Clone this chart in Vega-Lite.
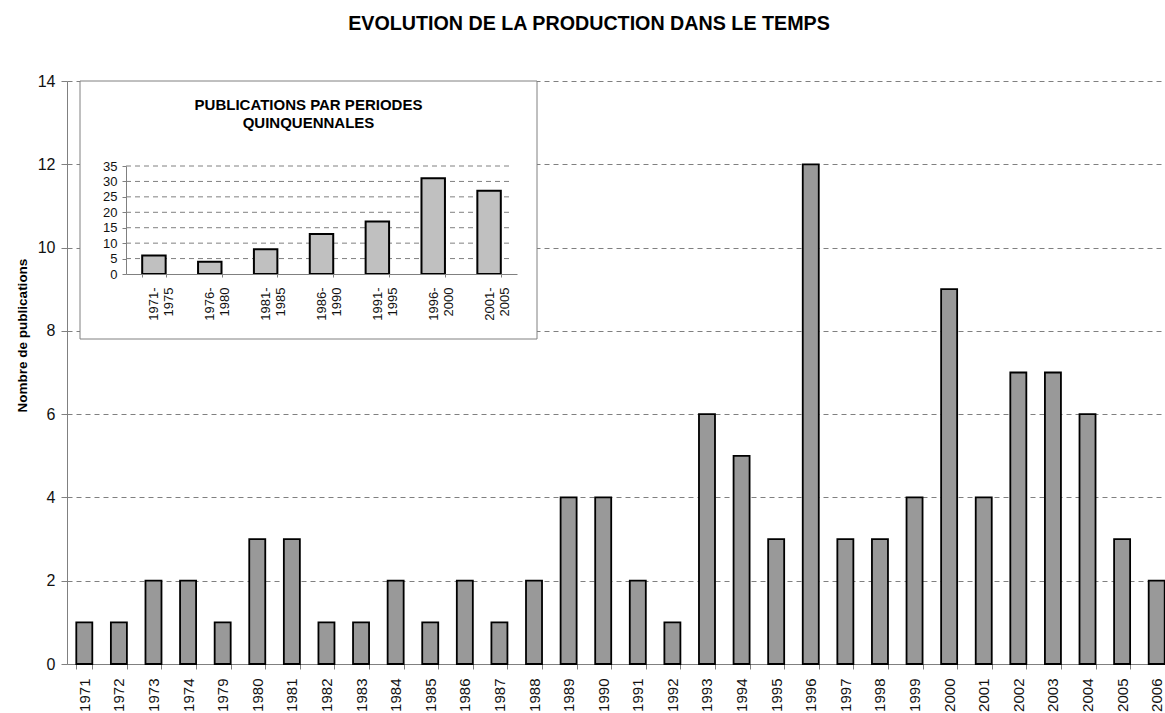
{
  "$schema": "https://vega.github.io/schema/vega-lite/v6.json",
  "width": 1098,
  "height": 583,
  "autosize": {"type": "none"},
  "padding": {"left": 67, "top": 81, "right": 0, "bottom": 49},
  "background": "white",
  "title": {
    "text": "EVOLUTION DE LA PRODUCTION DANS LE TEMPS",
    "font": "Liberation Sans",
    "fontSize": 19.7,
    "fontWeight": "bold",
    "color": "black",
    "anchor": "middle",
    "frame": "group",
    "baseline": "alphabetic",
    "dx": -27,
    "offset": 23
  },
  "config": {
    "view": {"stroke": null},
    "font": "Liberation Sans",
    "axis": {"labelFont": "Liberation Sans", "titleFont": "Liberation Sans", "labelColor": "#111111", "titleColor": "#000000"}
  },
  "datasets": {
    "years": [
      {"year": "1971", "count": 1}, {"year": "1972", "count": 1}, {"year": "1973", "count": 2},
      {"year": "1974", "count": 2}, {"year": "1979", "count": 1}, {"year": "1980", "count": 3},
      {"year": "1981", "count": 3}, {"year": "1982", "count": 1}, {"year": "1983", "count": 1},
      {"year": "1984", "count": 2}, {"year": "1985", "count": 1}, {"year": "1986", "count": 2},
      {"year": "1987", "count": 1}, {"year": "1988", "count": 2}, {"year": "1989", "count": 4},
      {"year": "1990", "count": 4}, {"year": "1991", "count": 2}, {"year": "1992", "count": 1},
      {"year": "1993", "count": 6}, {"year": "1994", "count": 5}, {"year": "1995", "count": 3},
      {"year": "1996", "count": 12}, {"year": "1997", "count": 3}, {"year": "1998", "count": 3},
      {"year": "1999", "count": 4}, {"year": "2000", "count": 9}, {"year": "2001", "count": 4},
      {"year": "2002", "count": 7}, {"year": "2003", "count": 7}, {"year": "2004", "count": 6},
      {"year": "2005", "count": 3}, {"year": "2006", "count": 2}
    ],
    "periods": [
      {"period": "1971-1975", "count": 6},
      {"period": "1976-1980", "count": 4},
      {"period": "1981-1985", "count": 8},
      {"period": "1986-1990", "count": 13},
      {"period": "1991-1995", "count": 17},
      {"period": "1996-2000", "count": 31},
      {"period": "2001-2005", "count": 27}
    ],
    "insetGrid": [{"v": 5}, {"v": 10}, {"v": 15}, {"v": 20}, {"v": 25}, {"v": 30}, {"v": 35}]
  },
  "layer": [
    {
      "data": {"name": "years"},
      "mark": {"type": "bar", "fill": "#999999", "stroke": "#000000", "strokeWidth": 1.8},
      "encoding": {
        "x": {
          "field": "year", "type": "ordinal", "sort": null,
          "scale": {"range": [0, 1107], "paddingInner": 0.537, "paddingOuter": 0.2685},
          "axis": {
            "orient": "bottom", "title": null, "labelAngle": 270, "labelFontSize": 15,
            "tickBand": "extent", "tickSize": 5, "labelPadding": 9,
            "domainColor": "#808080", "tickColor": "#808080", "grid": false
          }
        },
        "y": {
          "field": "count", "type": "quantitative",
          "scale": {"domain": [0, 14], "nice": false},
          "axis": {
            "orient": "left", "title": "Nombre de publications", "titleFontSize": 13.5, "titleFontWeight": "bold",
            "titlePadding": 8, "titleY": 254, "values": [0, 2, 4, 6, 8, 10, 12, 14], "labelFontSize": 16,
            "tickSize": 6, "labelPadding": 6, "grid": true, "gridDash": [5, 4], "gridColor": "#808080",
            "domainColor": "#808080", "tickColor": "#808080"
          }
        }
      }
    },
    {
      "data": {"values": [{}]},
      "mark": {"type": "rect", "fill": "white", "stroke": "#808080", "strokeWidth": 1},
      "encoding": {
        "x": {"datum": 0, "type": "quantitative", "scale": {"domain": [0, 1], "range": [13, 470]}, "axis": null},
        "x2": {"datum": 1},
        "y": {"datum": 0, "type": "quantitative", "scale": {"domain": [0, 1], "range": [258, 0]}, "axis": null},
        "y2": {"datum": 1}
      }
    },
    {
      "data": {"values": [{}]},
      "mark": {
        "type": "text", "text": ["PUBLICATIONS PAR PERIODES", "QUINQUENNALES"],
        "font": "Liberation Sans", "fontSize": 15, "fontWeight": "bold", "color": "black",
        "align": "center", "baseline": "alphabetic", "lineHeight": 18.5
      },
      "encoding": {
        "x": {"datum": 0.5, "type": "quantitative", "scale": {"domain": [0, 1], "range": [13, 470]}, "axis": null},
        "y": {"datum": 0.8876, "type": "quantitative", "scale": {"domain": [0, 1], "range": [258, 0]}, "axis": null}
      }
    },
    {
      "data": {"name": "insetGrid"},
      "mark": {"type": "rule", "stroke": "#808080", "strokeWidth": 1, "strokeDash": [5, 4]},
      "encoding": {
        "x": {"datum": 0, "type": "quantitative", "scale": {"domain": [0, 1], "range": [59, 446]}, "axis": null},
        "x2": {"datum": 1},
        "y": {"field": "v", "type": "quantitative", "scale": {"domain": [0, 35], "range": [193, 85], "nice": false}, "axis": null}
      }
    },
    {
      "data": {"name": "periods"},
      "mark": {"type": "bar", "fill": "#c0c0c0", "stroke": "#000000", "strokeWidth": 2},
      "encoding": {
        "x": {
          "field": "period", "type": "ordinal", "sort": null,
          "scale": {"range": [59, 450], "paddingInner": 0.58, "paddingOuter": 0.29},
          "axis": {
            "orient": "bottom", "offset": -390, "zindex": 1, "title": null, "labelAngle": 270,
            "labelExpr": "[slice(datum.label, 0, 5), slice(datum.label, 5)]",
            "labelLineHeight": 15, "labelFontSize": 13, "tickBand": "extent", "tickSize": 3,
            "labelPadding": 10, "domainColor": "#808080", "tickColor": "#808080", "grid": false
          }
        },
        "y": {
          "field": "count", "type": "quantitative",
          "scale": {"domain": [0, 35], "range": [193, 85], "nice": false},
          "axis": {
            "orient": "left", "offset": -59, "zindex": 1, "title": null,
            "values": [0, 5, 10, 15, 20, 25, 30, 35], "labelFontSize": 13, "tickSize": 4,
            "labelPadding": 5, "grid": false, "domainColor": "#808080", "tickColor": "#808080"
          }
        }
      }
    }
  ],
  "resolve": {"scale": {"x": "independent", "y": "independent"}}
}
